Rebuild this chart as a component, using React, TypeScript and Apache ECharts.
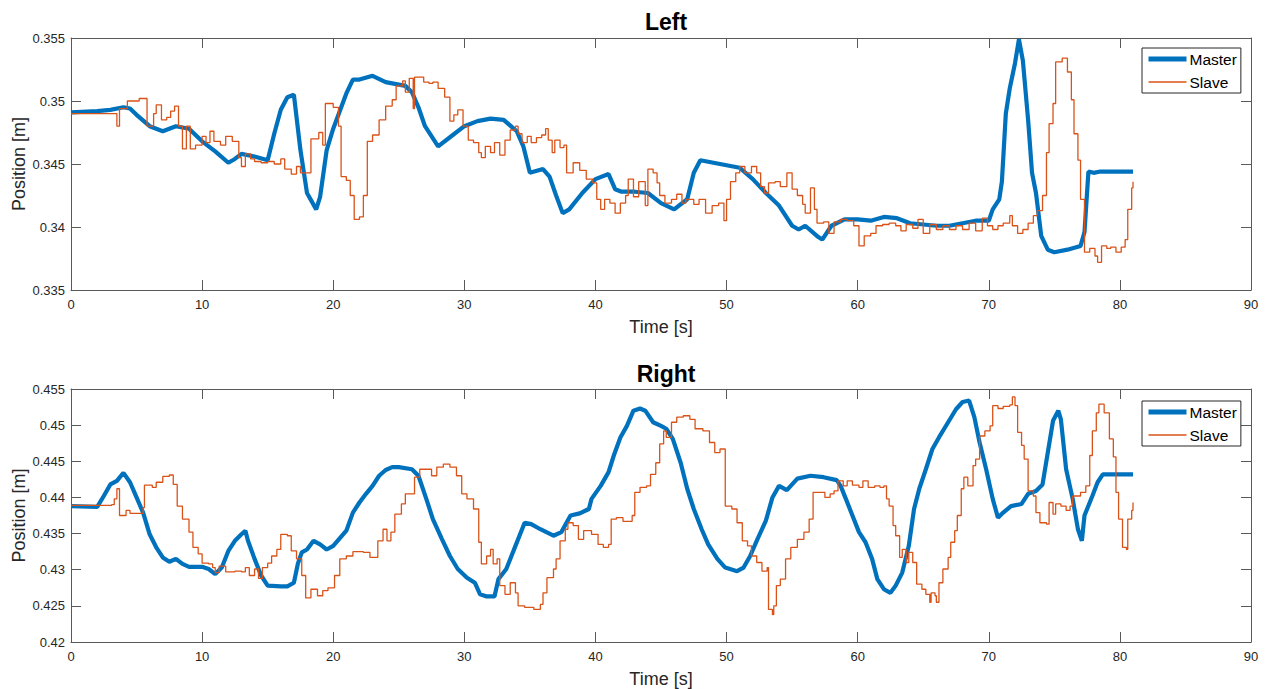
import React, { useEffect, useRef } from "react";
import * as echarts from "echarts";

const TITLES = ["Left", "Right"];
const SERIES_NAMES = ["Master", "Slave"];
const X_LABEL = "Time [s]";
const Y_LABEL = "Position [m]";
const X_RANGE = [0, 90, 10];
const LEFT_Y_RANGE = [0.335, 0.355, 0.005];
const RIGHT_Y_RANGE = [0.42, 0.455, 0.005];

const leftMaster: number[][] = [
  [0, 0.3491], [2, 0.3492], [3, 0.3493], [4, 0.3495], [4.5, 0.3494], [5, 0.3489], [6, 0.348], [7, 0.3476],
  [8, 0.348], [9, 0.3478], [10, 0.3468], [11, 0.346], [12, 0.3451], [12.5, 0.3454], [13, 0.3458], [14, 0.3456],
  [15, 0.3453], [15.5, 0.3474], [16, 0.3493], [16.5, 0.3503], [17, 0.3505], [17.5, 0.3461], [18, 0.3427],
  [18.7, 0.3414], [19, 0.3424], [19.5, 0.3461], [20, 0.3478], [21, 0.3506], [21.5, 0.3517], [22, 0.3517],
  [23, 0.352], [24, 0.3515], [25, 0.3513], [25.5, 0.3512], [26, 0.3507], [26.5, 0.3495], [27, 0.348],
  [28, 0.3464], [29, 0.3472], [30, 0.348], [31, 0.3484], [32, 0.3486], [33, 0.3485], [34, 0.3476],
  [34.5, 0.3464], [35, 0.3443], [36, 0.3446], [36.5, 0.344], [37, 0.3425], [37.5, 0.3411], [38, 0.3414],
  [39, 0.3427], [40, 0.3438], [41, 0.3442], [41.5, 0.343], [42, 0.3428], [43, 0.3428], [44, 0.3427],
  [45, 0.3419], [46, 0.3414], [47, 0.3422], [47.5, 0.3443], [48, 0.3453], [49, 0.3451], [50, 0.3449],
  [51, 0.3447], [52, 0.3438], [53, 0.3427], [54, 0.3417], [55, 0.3401], [55.5, 0.3398], [56, 0.3401],
  [57, 0.3392], [57.3, 0.339], [58, 0.3401], [59, 0.3406], [60, 0.3406], [61, 0.3405], [62, 0.3408],
  [63, 0.3407], [64, 0.3403], [65, 0.3402], [66, 0.3401], [67, 0.3401], [68, 0.3403], [69, 0.3405],
  [70, 0.3405], [70.3, 0.3414], [70.8, 0.3422], [71, 0.3436], [71.3, 0.349], [71.6, 0.351], [72, 0.353],
  [72.3, 0.3549], [72.6, 0.3532], [73, 0.3485], [73.3, 0.3443], [73.6, 0.3427], [74, 0.3393], [74.5, 0.3382],
  [75, 0.338], [76, 0.3382], [77, 0.3385], [77.3, 0.3396], [77.6, 0.3444], [78, 0.3443], [78.5, 0.3444],
  [81, 0.3444],
];

const leftSlave: number[][] = [
  [0, 0.349], [3.5, 0.348], [3.7, 0.3494], [4.3, 0.35], [5.2, 0.3502], [5.8, 0.348], [6.3, 0.349], [6.5, 0.3497],
  [6.9, 0.3485], [7.3, 0.3487], [7.6, 0.3492], [7.9, 0.3496], [8.2, 0.348], [8.5, 0.3462], [8.8, 0.348],
  [9.1, 0.3462], [9.5, 0.3465], [10, 0.3472], [10.3, 0.3467], [10.6, 0.3476], [10.9, 0.3468], [11.4, 0.3465],
  [11.8, 0.3472], [12.3, 0.3468], [12.8, 0.3455], [13, 0.3448], [13.3, 0.3458], [13.7, 0.3454], [14, 0.3452],
  [14.5, 0.3451], [15, 0.3452], [15.5, 0.345], [16, 0.3454], [16.3, 0.3446], [16.8, 0.3442], [17.2, 0.3448],
  [17.5, 0.3443], [18.3, 0.347], [18.9, 0.3475], [19.2, 0.3465], [19.4, 0.3498], [20, 0.3495], [20.4, 0.348],
  [20.6, 0.344], [21, 0.3437], [21.3, 0.3425], [21.6, 0.3406], [22, 0.3408], [22.3, 0.3425], [22.6, 0.3468],
  [23, 0.3473], [23.5, 0.3485], [24, 0.3496], [24.5, 0.3501], [24.8, 0.3512], [25.3, 0.3516], [25.5, 0.3507],
  [25.8, 0.3518], [26.1, 0.3494], [26.2, 0.3519], [26.9, 0.3515], [27.3, 0.3514], [27.6, 0.3515], [28, 0.351],
  [28.5, 0.3503], [28.9, 0.3484], [29.2, 0.3489], [29.5, 0.3493], [29.9, 0.348], [30.3, 0.3469], [30.7, 0.3467],
  [31.1, 0.3459], [31.3, 0.3455], [31.6, 0.3464], [32, 0.3459], [32.3, 0.3467], [32.7, 0.3457], [33.1, 0.3469],
  [33.5, 0.3477], [33.9, 0.348], [34.1, 0.3474], [34.4, 0.3467], [34.8, 0.3472], [35.1, 0.3467], [35.5, 0.3471],
  [35.9, 0.3473], [36.2, 0.3478], [36.4, 0.3469], [36.7, 0.3459], [36.9, 0.3469], [37.3, 0.3463], [37.6, 0.3465],
  [37.8, 0.3443], [38.3, 0.3451], [38.8, 0.3445], [39.3, 0.3438], [39.8, 0.3435], [40.1, 0.3422], [40.4, 0.3414],
  [40.7, 0.3422], [41.1, 0.3419], [41.5, 0.3411], [41.9, 0.3419], [42.3, 0.3425], [42.5, 0.3438], [42.9, 0.3424],
  [43.3, 0.3436], [43.8, 0.3417], [44, 0.3446], [44.4, 0.3443], [44.7, 0.3435], [44.9, 0.3425], [45.3, 0.3419],
  [45.8, 0.3422], [46.2, 0.3426], [46.6, 0.3419], [46.9, 0.3422], [47.5, 0.3418], [47.9, 0.3422], [48.4, 0.3411],
  [48.9, 0.3417], [49.4, 0.3419], [49.8, 0.3405], [50, 0.3422], [50.3, 0.3436], [50.7, 0.3443], [51, 0.3448],
  [51.4, 0.3443], [51.9, 0.3448], [52.3, 0.3443], [52.6, 0.3432], [52.9, 0.3427], [53.2, 0.3435], [53.7, 0.3436],
  [54.1, 0.3432], [54.6, 0.3443], [55, 0.343], [55.4, 0.3425], [55.8, 0.3418], [56, 0.3411], [56.4, 0.3431],
  [56.7, 0.3414], [56.9, 0.3403], [57.4, 0.3404], [57.8, 0.3395], [58.2, 0.3404], [58.7, 0.3406], [59.2, 0.3405],
  [59.7, 0.3401], [60.1, 0.3385], [60.5, 0.3393], [61, 0.3395], [61.4, 0.3401], [61.9, 0.3402], [62.4, 0.3403],
  [62.9, 0.3401], [63.3, 0.3397], [63.7, 0.3402], [64.2, 0.3399], [64.6, 0.3406], [65, 0.3395], [65.5, 0.3402],
  [66, 0.3398], [66.5, 0.3401], [67, 0.3398], [67.5, 0.3401], [68, 0.3398], [68.5, 0.3403], [69, 0.3397],
  [69.5, 0.3407], [69.9, 0.3401], [70.3, 0.3398], [70.7, 0.3401], [71.1, 0.3403], [71.6, 0.3409], [71.8, 0.3401],
  [72.2, 0.3395], [72.6, 0.3398], [73, 0.3403], [73.4, 0.3409], [73.7, 0.3413], [74.1, 0.3425], [74.4, 0.3459],
  [74.6, 0.3482], [74.9, 0.3498], [75.1, 0.3531], [75.6, 0.3534], [76, 0.3523], [76.3, 0.3501], [76.5, 0.3474],
  [76.8, 0.3453], [77, 0.3422], [77.3, 0.338], [77.7, 0.3383], [78.1, 0.3377], [78.3, 0.3372], [78.6, 0.3385],
  [79, 0.3383], [79.3, 0.3384], [79.7, 0.338], [80.1, 0.3384], [80.4, 0.339], [80.6, 0.3414], [80.9, 0.3431],
  [81, 0.3436],
];

const rightMaster: number[][] = [
  [0, 0.4388], [2, 0.4387], [2.5, 0.4402], [3, 0.4418], [3.5, 0.4423], [4, 0.4434], [4.5, 0.4421], [5, 0.44],
  [5.5, 0.4379], [6, 0.4349], [6.5, 0.4331], [7, 0.4317], [7.5, 0.4311], [8, 0.4315], [8.5, 0.4308], [9, 0.4304],
  [10, 0.4304], [10.5, 0.4301], [11, 0.4294], [11.5, 0.4303], [12, 0.4326], [12.5, 0.434], [13, 0.4349],
  [13.3, 0.4354], [13.5, 0.434], [14, 0.4315], [14.5, 0.4292], [15, 0.4278], [16, 0.4277], [16.5, 0.4277],
  [17, 0.4282], [17.3, 0.4308], [17.6, 0.4324], [18, 0.4328], [18.5, 0.434], [19, 0.4335], [19.5, 0.4328],
  [20, 0.4333], [21, 0.4354], [21.5, 0.4379], [22, 0.4393], [22.5, 0.4405], [23, 0.4416], [23.5, 0.443],
  [24, 0.4438], [24.5, 0.4442], [25, 0.4442], [26, 0.4439], [26.5, 0.443], [27.1, 0.4398], [27.6, 0.437],
  [28.3, 0.4342], [28.9, 0.4319], [29.5, 0.4301], [30.2, 0.4289], [30.8, 0.4282], [31.2, 0.4266], [31.7, 0.4263],
  [32.3, 0.4263], [32.6, 0.4287], [33.2, 0.4301], [33.9, 0.4333], [34.6, 0.4365], [35.1, 0.4363], [35.8, 0.4356],
  [36.8, 0.4347], [37.4, 0.4352], [38.1, 0.4375], [38.8, 0.4378], [39.5, 0.4384], [39.7, 0.4398], [40.4, 0.4416],
  [41, 0.4435], [41.4, 0.4458], [41.9, 0.4483], [42.4, 0.4499], [42.9, 0.452], [43.4, 0.4523], [43.8, 0.452],
  [44.4, 0.4504], [45, 0.4499], [45.4, 0.4495], [45.9, 0.4481], [46.5, 0.4448], [47, 0.4412], [47.5, 0.4384],
  [48.1, 0.4356], [48.6, 0.4335], [49.3, 0.4315], [49.9, 0.4303], [50.8, 0.4298], [51.3, 0.4303], [51.8, 0.4319],
  [52.3, 0.434], [53, 0.4368], [53.5, 0.44], [54, 0.4416], [54.6, 0.441], [55.4, 0.4426], [56.4, 0.443],
  [57.4, 0.4428], [58.4, 0.4424], [58.7, 0.4416], [59.1, 0.4398], [59.6, 0.4375], [60.1, 0.4352], [60.6, 0.4338],
  [61.1, 0.4315], [61.5, 0.4287], [62, 0.4273], [62.5, 0.4268], [62.9, 0.4278], [63.4, 0.4296], [63.9, 0.4333],
  [64.3, 0.4384], [64.7, 0.4412], [65.2, 0.4439], [65.7, 0.4467], [66.2, 0.4483], [66.9, 0.4504], [67.5, 0.4522],
  [68, 0.4532], [68.5, 0.4534], [68.9, 0.4511], [69.3, 0.4476], [69.8, 0.4439], [70.3, 0.4398], [70.7, 0.4372],
  [71.1, 0.4379], [71.7, 0.4388], [72.5, 0.4391], [73, 0.4405], [73.6, 0.4409], [74.1, 0.4418], [74.5, 0.4462],
  [74.9, 0.4506], [75.3, 0.452], [75.5, 0.4508], [75.9, 0.4439], [76.4, 0.4398], [76.8, 0.4356], [77.1, 0.434],
  [77.3, 0.4375], [77.9, 0.4402], [78.3, 0.4421], [78.7, 0.4432], [81, 0.4432],
];

const rightSlave: number[][] = [
  [0, 0.4389], [3.1, 0.439], [3.3, 0.4398], [3.5, 0.4412], [3.7, 0.4375], [4.2, 0.4382], [4.5, 0.4378],
  [5.5, 0.4386], [5.6, 0.4417], [6.2, 0.4414], [6.5, 0.4421], [7, 0.4429], [7.5, 0.4431], [7.8, 0.4418],
  [8.1, 0.4388], [8.5, 0.437], [9, 0.4352], [9.3, 0.4331], [9.7, 0.4322], [10, 0.4309], [10.5, 0.4308],
  [10.8, 0.4303], [11, 0.4296], [11.3, 0.4305], [11.8, 0.4297], [12.5, 0.4298], [13, 0.4297], [13.3, 0.4303],
  [13.6, 0.4292], [14, 0.4301], [14.3, 0.4288], [14.6, 0.4303], [15, 0.4309], [15.3, 0.4319], [15.7, 0.4328],
  [16, 0.4349], [16.5, 0.4347], [16.8, 0.4326], [17.2, 0.4315], [17.6, 0.4292], [17.9, 0.4261], [18.3, 0.4273],
  [18.8, 0.4264], [19.2, 0.4271], [19.6, 0.4275], [20.1, 0.4292], [20.5, 0.4315], [21, 0.4319], [21.5, 0.4325],
  [22.3, 0.4324], [22.8, 0.4317], [23.4, 0.434], [23.8, 0.4356], [24.1, 0.434], [24.4, 0.4352], [24.7, 0.4377],
  [25.2, 0.4391], [25.5, 0.4405], [26.2, 0.4428], [26.6, 0.4439], [27.5, 0.443], [27.9, 0.4442], [28.4, 0.4446],
  [28.9, 0.4442], [29.4, 0.443], [29.8, 0.4405], [30.2, 0.4398], [30.7, 0.4384], [31.1, 0.4338], [31.3, 0.4308],
  [31.7, 0.4319], [32, 0.4328], [32.2, 0.4308], [32.5, 0.4315], [32.7, 0.4278], [33.1, 0.4266], [33.5, 0.4282],
  [33.9, 0.4268], [34.1, 0.425], [34.6, 0.4248], [35.3, 0.4245], [35.8, 0.4252], [36, 0.4268], [36.3, 0.4289],
  [36.8, 0.4301], [37, 0.4315], [37.3, 0.434], [37.7, 0.4356], [37.9, 0.4365], [38.3, 0.4361], [38.7, 0.4342],
  [39.1, 0.4354], [39.7, 0.4349], [40.2, 0.4335], [40.6, 0.4331], [41, 0.4335], [41.2, 0.437], [41.6, 0.4372],
  [42.1, 0.4367], [42.8, 0.4375], [43, 0.4407], [43.4, 0.4414], [43.9, 0.4416], [44.2, 0.4432], [44.6, 0.4448],
  [44.9, 0.4474], [45.2, 0.4492], [45.4, 0.4483], [45.8, 0.4504], [46.2, 0.4511], [46.7, 0.4513], [47.2, 0.4508],
  [47.6, 0.4495], [48.2, 0.4492], [48.7, 0.4476], [49.1, 0.4462], [49.5, 0.4467], [49.9, 0.4388], [50.4, 0.4384],
  [50.8, 0.4365], [51.2, 0.434], [51.6, 0.4333], [51.9, 0.4319], [52.3, 0.431], [52.7, 0.4298], [53.1, 0.4303],
  [53.2, 0.4245], [53.5, 0.4238], [53.6, 0.425], [53.8, 0.4278], [54.1, 0.4287], [54.5, 0.4315], [54.9, 0.4331],
  [55.4, 0.4342], [55.9, 0.4352], [56.3, 0.437], [56.6, 0.4407], [57.5, 0.44], [57.9, 0.4405], [58.2, 0.4409],
  [58.5, 0.4423], [58.9, 0.4416], [59.2, 0.4423], [59.6, 0.4417], [60.1, 0.4414], [60.4, 0.4423], [60.8, 0.4414],
  [61.3, 0.4416], [61.7, 0.4414], [62, 0.4416], [62.2, 0.4398], [62.4, 0.4388], [62.7, 0.4361], [62.9, 0.4347],
  [63.2, 0.4317], [63.4, 0.4328], [63.7, 0.431], [63.9, 0.4324], [64.2, 0.431], [64.5, 0.428], [64.9, 0.4273],
  [65.2, 0.4266], [65.5, 0.4255], [65.6, 0.4268], [65.9, 0.4264], [66, 0.4255], [66.2, 0.4282], [66.5, 0.4301],
  [66.9, 0.4317], [67.1, 0.4338], [67.4, 0.4354], [67.6, 0.4375], [67.9, 0.4412], [68.1, 0.4428], [68.4, 0.4416],
  [68.8, 0.4444], [69, 0.4453], [69.3, 0.4485], [69.7, 0.4492], [70.1, 0.4499], [70.3, 0.4527], [70.7, 0.4523],
  [71.1, 0.4526], [71.6, 0.4528], [71.8, 0.4539], [72, 0.4527], [72.2, 0.449], [72.5, 0.4472], [72.7, 0.4453],
  [73, 0.4409], [73.4, 0.4402], [73.6, 0.4379], [73.9, 0.4365], [74.4, 0.4363], [74.6, 0.4393], [74.9, 0.4377],
  [75.1, 0.4391], [75.5, 0.4388], [75.9, 0.4382], [76.2, 0.4388], [76.4, 0.4402], [77, 0.4407], [77.4, 0.4416],
  [77.7, 0.4458], [77.9, 0.4492], [78.2, 0.4517], [78.4, 0.4529], [78.8, 0.4517], [79.2, 0.4481], [79.5, 0.4456],
  [79.7, 0.4407], [79.9, 0.437], [80.2, 0.4331], [80.5, 0.4328], [80.6, 0.437], [80.9, 0.4382], [81, 0.4393],
];

const FONT = "'Liberation Sans', Arial, Helvetica, sans-serif";
const TEXT = "#262626";
const AXIS = "#595959";
const MASTER_COLOR = "#0072BD";
const SLAVE_COLOR = "#D95319";
const MASTER_WIDTH = 4.2;
const SLAVE_WIDTH = 1.3;

const fmt = (v: number) => String(parseFloat(v.toFixed(3)));

export default function App() {
  const ref = useRef<HTMLDivElement>(null);
  useEffect(() => {
    if (!ref.current) return;
    const chart = echarts.init(ref.current, null, { renderer: "svg" });
    const grids = [
      { left: 71, top: 38, width: 1180, height: 252, containLabel: false, outerBoundsMode: "none" },
      { left: 71, top: 389, width: 1180, height: 253, containLabel: false, outerBoundsMode: "none" },
    ];
    const yRanges = [LEFT_Y_RANGE, RIGHT_Y_RANGE];
    const xAxes: any[] = [];
    const yAxes: any[] = [];
    grids.forEach((_, g) => {
      const base = {
        type: "value",
        gridIndex: g,
        axisLine: { show: true, onZero: false, lineStyle: { color: AXIS, width: 1 } },
        axisTick: { show: true, inside: true, length: 10, lineStyle: { color: AXIS, width: 1 } },
        splitLine: { show: false },
      };
      xAxes.push({
        ...base,
        position: "bottom",
        min: X_RANGE[0],
        max: X_RANGE[1],
        interval: X_RANGE[2],
        axisLabel: { show: true, color: TEXT, fontFamily: FONT, fontSize: 13, margin: 8 },
        name: X_LABEL,
        nameLocation: "middle",
        nameGap: 28,
        nameMoveOverlap: false,
        nameTextStyle: { color: TEXT, fontFamily: FONT, fontSize: 18 },
      });
      xAxes.push({
        ...base,
        position: "top",
        min: X_RANGE[0],
        max: X_RANGE[1],
        interval: X_RANGE[2],
        axisLabel: { show: false },
      });
      const yr = yRanges[g];
      yAxes.push({
        ...base,
        position: "left",
        min: yr[0],
        max: yr[1],
        interval: yr[2],
        axisLabel: { show: true, color: TEXT, fontFamily: FONT, fontSize: 13, margin: 6, formatter: fmt },
        name: Y_LABEL,
        nameLocation: "middle",
        nameGap: 43,
        nameMoveOverlap: false,
        nameTextStyle: { color: TEXT, fontFamily: FONT, fontSize: 18 },
      });
      yAxes.push({
        ...base,
        position: "right",
        min: yr[0],
        max: yr[1],
        interval: yr[2],
        axisLabel: { show: false },
      });
    });
    const data = [
      [leftMaster, leftSlave],
      [rightMaster, rightSlave],
    ];
    const series: any[] = [];
    data.forEach((pair, g) => {
      series.push({
        name: SERIES_NAMES[0],
        type: "line",
        xAxisIndex: g * 2,
        yAxisIndex: g * 2,
        data: pair[0],
        symbol: "none",
        showSymbol: false,
        lineStyle: { color: MASTER_COLOR, width: MASTER_WIDTH },
        itemStyle: { color: MASTER_COLOR },
        z: 2,
      });
      series.push({
        name: SERIES_NAMES[1],
        type: "line",
        xAxisIndex: g * 2,
        yAxisIndex: g * 2,
        data: pair[1],
        step: "end",
        symbol: "none",
        showSymbol: false,
        lineStyle: { color: SLAVE_COLOR, width: SLAVE_WIDTH },
        itemStyle: { color: SLAVE_COLOR },
        z: 3,
      });
    });
    const legendBase = {
      orient: "vertical",
      left: 1142,
      data: [
        { name: SERIES_NAMES[0], lineStyle: { color: MASTER_COLOR, width: 5 } },
        { name: SERIES_NAMES[1], lineStyle: { color: SLAVE_COLOR, width: 1.5 } },
      ],
      itemWidth: 38,
      itemHeight: 14,
      itemGap: 7,
      padding: [3, 4, 3, 4],
      borderColor: "#262626",
      borderWidth: 1,
      backgroundColor: "#fff",
      itemStyle: { opacity: 0 },
      textStyle: { color: "#000", fontFamily: FONT, fontSize: 15.5, padding: [0, 0, 0, -2] },
      selectedMode: false,
    };
    chart.setOption({
      animation: false,
      backgroundColor: "#fff",
      title: [
        { text: TITLES[0], left: 661, top: 5, textAlign: "center", textStyle: { color: "#000", fontFamily: FONT, fontSize: 23, fontWeight: "bold" } },
        { text: TITLES[1], left: 661, top: 357, textAlign: "center", textStyle: { color: "#000", fontFamily: FONT, fontSize: 23, fontWeight: "bold" } },
      ],
      legend: [
        { ...legendBase, top: 48 },
        { ...legendBase, top: 401 },
      ],
      grid: grids,
      xAxis: xAxes,
      yAxis: yAxes,
      series,
    });
    return () => chart.dispose();
  }, []);
  return <div ref={ref} style={{ position: "absolute", left: 0, top: 0, width: 1265, height: 689 }} />;
}
